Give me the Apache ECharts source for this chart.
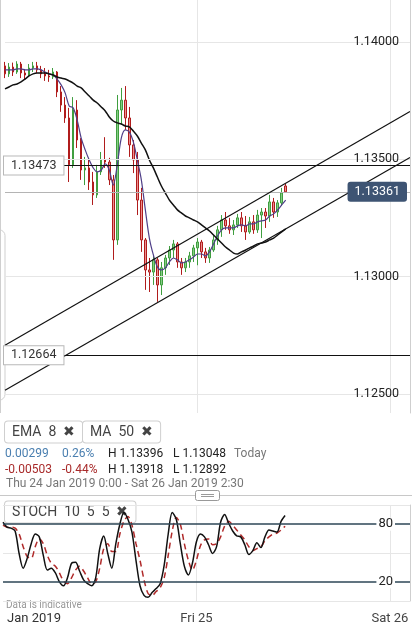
<!DOCTYPE html>
<html>
<head>
<meta charset="utf-8">
<script src="https://cdn.jsdelivr.net/npm/echarts@6/dist/echarts.min.js"></script>
<style>
html, body { margin: 0; padding: 0; background: #fff; }
#main { width: 412px; height: 625px; }
</style>
</head>
<body>
<div id="main"></div>
<script>
// 30 min bars, Thu 24 Jan 0:00 -> Fri 25 Jan 11:00  [open, close, low, high]
var candles = [
    [1.13898, 1.13864, 1.13846, 1.13915], [1.13864, 1.13893, 1.13851, 1.13910],
    [1.13893, 1.13872, 1.13855, 1.13912], [1.13872, 1.13906, 1.13864, 1.13918],
    [1.13906, 1.13868, 1.13846, 1.13915], [1.13868, 1.13859, 1.13838, 1.13885],
    [1.13859, 1.13889, 1.13851, 1.13906], [1.13889, 1.13898, 1.13872, 1.13915],
    [1.13898, 1.13881, 1.13868, 1.13915], [1.13881, 1.13864, 1.13846, 1.13898],
    [1.13864, 1.13855, 1.13834, 1.13889], [1.13855, 1.13851, 1.13830, 1.13881],
    [1.13851, 1.13872, 1.13842, 1.13889], [1.13872, 1.13787, 1.13765, 1.13876],
    [1.13787, 1.13731, 1.13702, 1.13812], [1.13731, 1.13676, 1.13655, 1.13765],
    [1.13676, 1.13476, 1.13403, 1.13719], [1.13476, 1.13710, 1.13463, 1.13765],
    [1.13710, 1.13582, 1.13548, 1.13752], [1.13582, 1.13454, 1.13412, 1.13590],
    [1.13454, 1.13463, 1.13390, 1.13510], [1.13463, 1.13403, 1.13369, 1.13497],
    [1.13403, 1.13348, 1.13305, 1.13446], [1.13348, 1.13446, 1.13335, 1.13476],
    [1.13446, 1.13497, 1.13433, 1.13531], [1.13497, 1.13488, 1.13463, 1.13594],
    [1.13488, 1.13412, 1.13390, 1.13506], [1.13412, 1.13156, 1.13071, 1.13433],
    [1.13156, 1.13710, 1.13135, 1.13774], [1.13710, 1.13752, 1.13646, 1.13804],
    [1.13752, 1.13676, 1.13625, 1.13812], [1.13676, 1.13561, 1.13510, 1.13723],
    [1.13561, 1.13497, 1.13441, 1.13582], [1.13497, 1.13326, 1.13262, 1.13531],
    [1.13326, 1.13156, 1.13105, 1.13378], [1.13156, 1.13028, 1.12943, 1.13164],
    [1.13028, 1.13019, 1.12934, 1.13079], [1.13019, 1.13071, 1.12964, 1.13092],
    [1.13071, 1.12964, 1.12892, 1.13079], [1.12964, 1.13037, 1.12921, 1.13062],
    [1.13037, 1.13079, 1.13007, 1.13092], [1.13079, 1.13113, 1.13049, 1.13130],
    [1.13113, 1.13139, 1.13079, 1.13156], [1.13139, 1.13062, 1.13037, 1.13147],
    [1.13062, 1.13037, 1.13007, 1.13079], [1.13037, 1.13062, 1.13019, 1.13079],
    [1.13062, 1.13088, 1.13037, 1.13105], [1.13088, 1.13122, 1.13062, 1.13135],
    [1.13122, 1.13147, 1.13048, 1.13164], [1.13147, 1.13105, 1.13079, 1.13156],
    [1.13105, 1.13079, 1.13058, 1.13122], [1.13079, 1.13113, 1.13058, 1.13126],
    [1.13113, 1.13156, 1.13105, 1.13177], [1.13156, 1.13199, 1.13135, 1.13216],
    [1.13199, 1.13241, 1.13169, 1.13262], [1.13241, 1.13216, 1.13199, 1.13275],
    [1.13216, 1.13199, 1.13182, 1.13250], [1.13199, 1.13220, 1.13177, 1.13241],
    [1.13220, 1.13250, 1.13207, 1.13267], [1.13250, 1.13216, 1.13190, 1.13275],
    [1.13216, 1.13190, 1.13156, 1.13258], [1.13190, 1.13233, 1.13182, 1.13254],
    [1.13233, 1.13199, 1.13182, 1.13262], [1.13199, 1.13262, 1.13186, 1.13284],
    [1.13262, 1.13275, 1.13164, 1.13292], [1.13275, 1.13258, 1.13207, 1.13292],
    [1.13258, 1.13318, 1.13233, 1.13348], [1.13318, 1.13275, 1.13250, 1.13335],
    [1.13275, 1.13314, 1.13254, 1.13326], [1.13314, 1.13356, 1.13301, 1.13378],
    [1.13386, 1.13361, 1.13356, 1.13396]
];

var ema8 = [
    1.13881, 1.13881, 1.13881, 1.13885, 1.13885, 1.13881, 1.13881, 1.13885, 1.13885, 1.13881,
    1.13872, 1.13864, 1.13859, 1.13842, 1.13817, 1.13783, 1.13727, 1.13719, 1.13667, 1.13590,
    1.13540, 1.13497, 1.13463, 1.13446, 1.13454, 1.13480, 1.13454, 1.13390, 1.13476, 1.13590,
    1.13625, 1.13616, 1.13574, 1.13497, 1.13412, 1.13284, 1.13164, 1.13092, 1.13041, 1.13028,
    1.13037, 1.13062, 1.13079, 1.13071, 1.13058, 1.13062, 1.13071, 1.13083, 1.13096, 1.13096,
    1.13088, 1.13105, 1.13139, 1.13173, 1.13199, 1.13207, 1.13207, 1.13207, 1.13216, 1.13220,
    1.13216, 1.13224, 1.13224, 1.13233, 1.13237, 1.13241, 1.13258, 1.13267, 1.13284, 1.13305,
    1.13326
];

var ma50 = [
    1.13800, 1.13808, 1.13817, 1.13821, 1.13830, 1.13842, 1.13855, 1.13864, 1.13868, 1.13868,
    1.13868, 1.13864, 1.13859, 1.13851, 1.13846, 1.13842, 1.13834, 1.13825, 1.13812, 1.13804,
    1.13787, 1.13770, 1.13752, 1.13740, 1.13723, 1.13706, 1.13680, 1.13663, 1.13655, 1.13650,
    1.13642, 1.13638, 1.13620, 1.13599, 1.13569, 1.13540, 1.13497, 1.13463, 1.13424, 1.13386,
    1.13356, 1.13326, 1.13305, 1.13284, 1.13271, 1.13258, 1.13250, 1.13241, 1.13233, 1.13220,
    1.13207, 1.13194, 1.13177, 1.13160, 1.13143, 1.13126, 1.13113, 1.13100, 1.13096, 1.13105,
    1.13113, 1.13122, 1.13130, 1.13139, 1.13143, 1.13147, 1.13156, 1.13164, 1.13177, 1.13190,
    1.13203
];

var stochK = [
    82.0, 76.9, 75.9, 72.9, 49.5, 34.2, 44.4, 59.7, 69.8, 66.8,
    47.5, 32.2, 34.2, 29.2, 20.0, 15.9, 24.1, 39.3, 40.3, 31.2,
    22.1, 18.0, 15.9, 24.1, 54.6, 67.8, 49.5, 34.2, 59.7, 80.0,
    92.2, 85.1, 71.8, 42.4, 15.9, 5.8, 3.8, 8.8, 12.9, 18.0,
    37.3, 69.8, 92.2, 85.1, 59.7, 36.3, 27.1, 39.3, 61.7, 69.8,
    66.8, 58.6, 49.5, 56.6, 82.0, 90.1, 81.0, 72.9, 67.8, 66.8,
    58.6, 48.5, 52.5, 60.7, 55.6, 66.8, 73.9, 72.9, 71.8, 83.0,
    89.1
];

var stochD = [
    79.0, 76.9, 76.9, 75.9, 69.8, 56.6, 46.4, 44.4, 56.6, 64.7,
    59.7, 47.5, 39.3, 36.3, 29.2, 21.0, 18.0, 24.1, 32.2, 36.3,
    31.2, 24.1, 18.0, 20.0, 34.2, 54.6, 59.7, 51.5, 51.5, 69.8,
    83.0, 88.1, 79.0, 59.7, 42.4, 22.1, 7.8, 5.8, 9.9, 13.9,
    24.1, 47.5, 72.9, 87.1, 80.0, 59.7, 42.4, 32.2, 42.4, 57.6,
    63.7, 64.7, 58.6, 59.7, 66.8, 77.9, 83.0, 79.0, 73.9, 68.8,
    63.7, 56.6, 52.5, 54.6, 56.6, 62.7, 66.8, 69.8, 70.8, 73.9,
    77.9
];

var priceTicks = [1.125, 1.13, 1.135, 1.14];
var levels = [1.13473, 1.12664];
var lastPrice = 1.13361;
// trend channel: price at Thu 24 0:00 and Sat 26 2:30
var channelUpper = [1.12707, 1.13704];
var channelLower = [1.12515, 1.13507];
var stochLevels = [20, 80];

var days = ['Thu 24', 'Fri 25', 'Sat 26'];
var times = [];
for (var i = 0; i <= 101; i++) {
    var d = Math.floor(i / 48);
    var hh = Math.floor((i % 48) / 2);
    times.push(days[d] + ' ' + hh + ':' + (i % 2 ? '30' : '00'));
}
var dayStart = function(index) { return index === 48 || index === 96; };

var FONT = 'Roboto, "Noto Sans", sans-serif';
var gridLine = { color: '#e6e6e6', width: 1, type: 'solid' };
var blackLine = { color: '#111', width: 1.2, type: 'solid' };

var myChart = echarts.init(document.getElementById('main'));

function txt(x, y, s, fill, size) {
    return {
        type: 'text', x: x, y: y, silent: true,
        style: { text: s, fill: fill, font: (size || 12) + 'px ' + FONT, textVerticalAlign: 'middle' }
    };
}
function box(x, y, s) {
    return {
        type: 'text', x: x, y: y, silent: true,
        style: {
            text: s, fill: '#444', font: '14px ' + FONT, textVerticalAlign: 'middle',
            backgroundColor: '#fff', borderColor: '#cfcfcf', borderWidth: 1, borderRadius: 3,
            padding: [4, 7, 3, 7]
        }
    };
}
function hLine(v, style) {
    return [{ coord: [times[0], v], lineStyle: style }, { coord: [times[101], v] }];
}

var option = {
    animation: false,
    textStyle: { fontFamily: FONT },
    grid: [
        { left: 3, right: 2, top: 0, height: 413 },
        { left: 3, right: 2, top: 505, height: 99 }
    ],
    xAxis: [
        {
            type: 'category', gridIndex: 0, data: times, boundaryGap: false,
            axisLine: { show: false }, axisTick: { show: false }, axisLabel: { show: false },
            splitLine: { show: true, interval: dayStart, lineStyle: gridLine }
        },
        {
            type: 'category', gridIndex: 1, data: times, boundaryGap: false,
            axisLine: { show: false }, axisTick: { show: false },
            splitLine: { show: true, interval: dayStart, lineStyle: gridLine },
            axisLabel: {
                interval: function(index) { return index === 0 || index === 48 || index === 96; },
                formatter: function(v) {
                    if (v === times[0]) return '{j|Jan 2019}';
                    return v.split(' ').slice(0, 2).join(' ');
                },
                rich: { j: { padding: [0, 0, 0, 62], fontSize: 13, color: '#333' } },
                color: '#444', fontSize: 13, margin: 11
            }
        }
    ],
    yAxis: [
        {
            type: 'value', gridIndex: 0, position: 'right', min: 1.12418, max: 1.14179, z: 10,
            axisLine: { show: true, lineStyle: { color: '#cfcfcf' } },
            axisTick: { show: false }, splitLine: { show: false },
            axisLabel: {
                inside: true, customValues: priceTicks, margin: 11,
                color: '#222', fontSize: 12.5,
                formatter: function(v) { return v.toFixed(5); }
            }
        },
        {
            type: 'value', gridIndex: 0, position: 'right', min: 1.12418, max: 1.14179, z: 11,
            axisLine: { show: false }, axisTick: { show: false }, splitLine: { show: false },
            axisLabel: {
                inside: true, customValues: [lastPrice], margin: 3,
                color: '#fff', fontSize: 12.5, backgroundColor: '#3e5473',
                borderRadius: 3, padding: [4, 7, 3, 7],
                formatter: function(v) { return v.toFixed(5); }
            }
        },
        {
            type: 'value', gridIndex: 0, position: 'left', min: 1.12418, max: 1.14179, z: 11,
            axisLine: { show: false }, axisTick: { show: false }, splitLine: { show: false },
            axisLabel: {
                inside: true, customValues: levels, margin: -1,
                color: '#333', fontSize: 12.5, backgroundColor: '#fff',
                borderColor: '#b8b8b8', borderWidth: 1, padding: [3, 7, 2, 7],
                formatter: function(v) { return v.toFixed(5); }
            }
        },
        {
            type: 'value', gridIndex: 1, position: 'right', min: 0, max: 100, interval: 50,
            axisLine: { show: true, lineStyle: { color: '#cfcfcf' } },
            axisTick: { show: false }, axisLabel: { show: false },
            splitLine: { show: true, lineStyle: gridLine }
        },
        {
            type: 'value', gridIndex: 1, position: 'right', min: 0, max: 100, z: 10,
            axisLine: { show: false }, axisTick: { show: false }, splitLine: { show: false },
            axisLabel: {
                inside: true, customValues: stochLevels, margin: 15,
                color: '#222', fontSize: 13, backgroundColor: '#fff', padding: [0, 2]
            }
        }
    ],
    series: [
        {
            name: 'EURUSD', type: 'candlestick', xAxisIndex: 0, yAxisIndex: 0, data: candles,
            barWidth: 2, z: 2,
            itemStyle: {
                color: '#86cc86', color0: '#eb8f8f',
                borderColor: '#3f9e3f', borderColor0: '#b01c1c', borderWidth: 1
            },
            markLine: {
                silent: true, symbol: ['none', 'none'], label: { show: false },
                data: priceTicks.map(function(v) { return hLine(v, gridLine); }).concat([
                    hLine(lastPrice, { color: '#b4b4b4', width: 1, type: 'solid' }),
                    hLine(levels[0], blackLine),
                    hLine(levels[1], blackLine),
                    [{ coord: [times[0], channelUpper[0]], lineStyle: blackLine }, { coord: [times[101], channelUpper[1]] }],
                    [{ coord: [times[0], channelLower[0]], lineStyle: blackLine }, { coord: [times[101], channelLower[1]] }]
                ])
            }
        },
        {
            name: 'EMA 8', type: 'line', xAxisIndex: 0, yAxisIndex: 0, data: ema8, z: 4,
            showSymbol: false, smooth: 0.3, lineStyle: { color: '#4f3f88', width: 1.2 }
        },
        {
            name: 'MA 50', type: 'line', xAxisIndex: 0, yAxisIndex: 0, data: ma50, z: 4,
            showSymbol: false, smooth: 0.3, lineStyle: { color: '#111', width: 1.5 }
        },
        {
            name: '%D', type: 'line', xAxisIndex: 1, yAxisIndex: 3, data: stochD, z: 3,
            showSymbol: false, smooth: 0.3,
            lineStyle: { color: '#b02a2a', width: 1.5, type: [6, 4] },
            markLine: {
                silent: true, symbol: ['none', 'none'], label: { show: false },
                lineStyle: { color: '#2d4656', width: 1.5, type: 'solid' },
                data: stochLevels.map(function(v) { return { yAxis: v }; })
            }
        },
        {
            name: '%K', type: 'line', xAxisIndex: 1, yAxisIndex: 3, data: stochK, z: 4,
            showSymbol: false, smooth: 0.3, lineStyle: { color: '#111', width: 1.5 }
        }
    ],
    graphic: [
        { type: 'line', silent: true, shape: { x1: 0.5, y1: 0, x2: 0.5, y2: 413 }, style: { stroke: '#cfcfcf' } },
        { type: 'rect', silent: true, shape: { x: -6, y: 230, width: 11, height: 170, r: 6 }, style: { fill: 'none', stroke: '#cfcfcf' } },
        box(5, 432, 'EMA  8  ✖'),
        box(83, 432, 'MA  50  ✖'),
        txt(5, 454, '0.00299', '#4a7fb0'),
        txt(62, 454, '0.26%', '#4a7fb0'),
        txt(108, 454, 'H 1.13396', '#222'),
        txt(173, 454, 'L 1.13048', '#222'),
        txt(234, 454, 'Today', '#777'),
        txt(5, 470, '-0.00503', '#a82a2a'),
        txt(62, 470, '-0.44%', '#a82a2a'),
        txt(108, 470, 'H 1.13918', '#222'),
        txt(173, 470, 'L 1.12892', '#222'),
        txt(6, 484, 'Thu 24 Jan 2019 0:00 - Sat 26 Jan 2019 2:30', '#777'),
        { type: 'line', silent: true, shape: { x1: 0, y1: 495.5, x2: 412, y2: 495.5 }, style: { stroke: '#c8c8c8' } },
        { type: 'rect', silent: true, shape: { x: 195.5, y: 490.5, width: 24, height: 10, r: 2 }, style: { fill: '#fff', stroke: '#999' } },
        { type: 'line', silent: true, shape: { x1: 201, y1: 494.5, x2: 214, y2: 494.5 }, style: { stroke: '#999' } },
        { type: 'line', silent: true, shape: { x1: 201, y1: 496.5, x2: 214, y2: 496.5 }, style: { stroke: '#999' } },
        box(5, 512, 'STOCH  10  5  5  ✖'),
        txt(6, 605, 'Data is indicative', '#999', 10)
    ]
};

myChart.setOption(option);
</script>
</body>
</html>
